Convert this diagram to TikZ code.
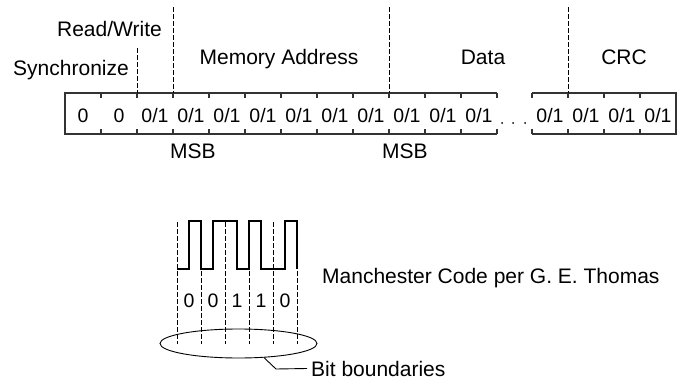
\documentclass[tikz,border=0pt]{standalone}
\usepackage{fontspec}
\setmainfont{Liberation Sans}
\usetikzlibrary{shapes.geometric}
\begin{document}
\begin{tikzpicture}[x=1pt,y=-1pt,
  lbl/.style={font=\fontsize{21}{25}\selectfont, inner sep=0pt},
  bitlbl/.style={font=\fontsize{19.5}{24}\selectfont, inner sep=0pt, anchor=base},
  bound/.style={dash pattern=on 4.5pt off 2.5pt, line width=0.9pt},
  boxline/.style={line width=1.1pt, draw=black!80},
  wave/.style={line width=2pt, line join=miter},
  ellipsebox/.style={ellipse, draw, line width=0.9pt, minimum width=157pt, minimum height=29pt, inner sep=0pt}]
\useasboundingbox (0,0) rectangle (686,380);

% ---------- frame ----------
\draw[boxline] (497,93) -- (65,93) -- (65,134) -- (497,134);
\draw[boxline] (532,93) -- (676,93) -- (676,134) -- (532,134);
\foreach \x in {101,137,...,497,532,568,604,640} {
  \draw[boxline] (\x,93) -- (\x,98);
  \draw[boxline] (\x,134) -- (\x,129);
}
% dots
\foreach \x/\n in {502/d1,513/d2,525/d3}
  \fill (\x,123) circle[radius=1pt] coordinate (\n);

% cell contents
\node[bitlbl] (c1) at (83,122) {0};
\node[bitlbl] (c2) at (119,122) {0};
\foreach \k in {2,...,11}
  \node[bitlbl] (c\k x) at ({83+36*\k},122) {0/1};
\foreach \x/\n in {550/e1,586/e2,622/e3,658/e4}
  \node[bitlbl] (\n) at (\x,122) {0/1};

\node[lbl, anchor=base] (msb1) at (193,158) {MSB};
\node[lbl, anchor=base] (msb2) at (405,158) {MSB};

% field boundaries
\coordinate (s1t) at (137,48);  \coordinate (s1b) at (137,93);
\coordinate (s2t) at (173,7);   \coordinate (s2b) at (173,93);
\coordinate (s3t) at (389,7);   \coordinate (s3b) at (389,93);
\coordinate (s4t) at (568,7);   \coordinate (s4b) at (568,93);
\foreach \n in {1,...,4} \draw[bound] (s\n t) -- (s\n b);

% field labels
\node[lbl, anchor=base east] (rw) at (162,36) {Read/Write};
\node[lbl, anchor=base east] (sync) at (129,75) {Synchronize};
\node[lbl, anchor=base] (mem) at (279,64) {Memory Address};
\node[lbl, anchor=base] (data) at (483,64) {Data};
\node[lbl, anchor=base] (crc) at (624,64) {CRC};

% ---------- Manchester ----------
\foreach \x [count=\i] in {177,201,225,249,273,297}
  \draw[bound] (\x,222) coordinate (bt\i) -- (\x,344) coordinate (bb\i);

\draw[wave] (177,269) -- (189,269) -- (189,221) -- (201,221) -- (201,269)
  -- (213,269) -- (213,221) -- (237,221) -- (237,269) -- (249,269)
  -- (249,221) -- (261,221) -- (261,269) -- (285,269) -- (285,221)
  -- (297,221) -- (297,269);

\foreach \x/\b [count=\i] in {189/0,213/0,237/1,261/1,285/0}
  \node[bitlbl] (m\i) at (\x,307) {\b};

\node[lbl, anchor=base west] (man) at (322,283) {Manchester Code per G. E. Thomas};

\node[ellipsebox] (ell) at (238.5,343.5) {};
\node[lbl, anchor=base west] (bbtxt) at (311,376) {Bit boundaries};
\coordinate (knee) at (276,369);
\draw[line width=0.9pt] (ell.-29) -- (knee) -- ([xshift=-4pt]bbtxt.west);
\end{tikzpicture}
\end{document}
